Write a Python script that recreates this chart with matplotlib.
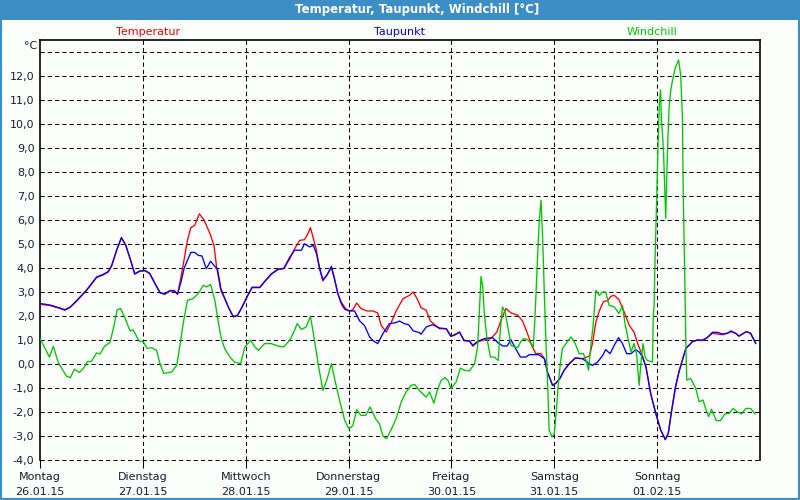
import matplotlib
matplotlib.use("Agg")
import matplotlib.pyplot as plt
from matplotlib.patches import Rectangle
import numpy as np

# ---------------- data (hours since Monday 00:00, °C) ----------------
temp_h = [0, 2.3, 4.7, 5.8, 7, 8.5, 10.9, 13.2, 14.8, 15.9, 16.7, 17.9, 19, 20, 21, 22.1, 23.3, 24.5, 25.6, 26.8,
          28, 29.1, 30.3, 31.3, 32.1, 32.9, 33.6, 34.4, 35.2, 36.1, 37.2, 38.3, 39.6, 40.6, 41.2, 42.2, 43.1, 44.1,
          45.1, 46.1, 47.2, 48.4, 49.5, 51.3, 52.4, 54, 55.5, 56.9, 58.3, 59.4, 60.6, 61.7, 62.5, 63.1, 63.7, 64.5,
          65.2, 66, 66.9, 68, 68.7, 69.5, 70.3, 71.3, 72.2, 73, 73.9, 74.9, 76.3, 77.7, 78.8, 79.6, 80.8, 82, 83.1,
          84.7, 86.2, 87.1, 88.2, 88.9, 90.1, 91.1, 92, 93.2, 94.8, 95.8, 96.7, 97.9, 99, 100.2, 101, 102.1, 103.7,
          105.2, 106.6, 107.7, 108.7, 109.9, 111.5, 112.6, 113.8, 114.7, 115.7, 116.9, 117.7, 118.4, 119.6, 120.4,
          121.3, 122.3, 123.5, 124.9, 126.6, 128.2, 128.9, 129.7, 130.5, 131.5, 132.4, 133.2, 134, 135.1, 136.3,
          137.5, 138.6, 139.6, 140.4, 141.4, 142.5, 143.7, 144.8, 145.9, 146.6, 147.4, 148.3, 149.1, 149.9, 150.7,
          151.5, 152.2, 153.4, 154.6, 155.7, 156.9, 158.1, 159.2, 160.4, 161.2, 162.3, 163.1, 163.9, 164.8, 165.8,
          166.6, 167]
temp_v = [2.49, 2.44, 2.31, 2.24, 2.35, 2.61, 3.07, 3.6, 3.72, 3.83, 4.07, 4.74, 5.25, 4.94, 4.39, 3.74, 3.86, 3.88,
          3.76, 3.35, 2.96, 2.9, 3.04, 3.04, 2.9, 3.63, 4.32, 5.15, 5.68, 5.78, 6.26, 5.99, 5.46, 4.94, 4.04, 3.07,
          2.72, 2.31, 1.99, 2.03, 2.38, 2.82, 3.18, 3.18, 3.42, 3.74, 3.93, 3.97, 4.39, 4.8, 5.15, 5.18, 5.43, 5.68,
          5.29, 4.74, 3.97, 3.46, 3.69, 4.01, 3.56, 2.93, 2.58, 2.31, 2.21, 2.26, 2.54, 2.31, 2.21, 2.21, 2.13, 1.61,
          1.33, 1.75, 2.21, 2.72, 2.86, 3.0, 2.65, 2.35, 2.24, 1.79, 1.65, 1.47, 1.47, 1.17, 1.19, 1.33, 0.96, 0.96,
          0.74, 0.92, 1.01, 1.06, 1.33, 1.89, 2.31, 2.13, 2.03, 1.79, 1.24, 0.78, 0.43, 0.43, 0.22, -0.33, -0.89,
          -0.79, -0.61, -0.26, 0.01, 0.25, 0.22, 0.33, 0.85, 1.75, 2.21, 2.61, 2.63, 2.82, 2.86, 2.68, 2.17, 1.61,
          1.33, 0.78, 0.43, -0.13, -1.24, -2.07, -2.74, -3.15, -2.89, -1.92, -0.94, -0.32, 0.17, 0.65, 0.79, 0.93,
          1.0, 0.97, 1.1, 1.28, 1.25, 1.22, 1.28, 1.35, 1.28, 1.15, 1.25, 1.35, 1.28, 1.0, 0.86]

dew_h = [0, 2.3, 4.7, 5.8, 7, 8.5, 10.9, 13.2, 14.8, 15.9, 16.7, 17.9, 19, 20, 21, 22.1, 23.3, 24.5, 25.6, 26.8,
         28, 29.1, 30.3, 31.3, 32.1, 32.9, 33.6, 34.4, 35.2, 36.1, 36.9, 37.8, 38.8, 39.8, 40.8, 41.4, 42.2, 43.1,
         44.1, 45.1, 46.1, 47.2, 48.4, 49.5, 51.3, 52.4, 54, 55.5, 56.9, 58.3, 59.4, 61, 61.7, 62.9, 63.8, 64.5,
         65.2, 66, 66.9, 68, 68.7, 69.5, 70.3, 71.1, 72.2, 73.4, 74.6, 75.7, 76.9, 77.8, 78.8, 80, 81.5, 82.9,
         83.9, 85, 86, 87.1, 88.5, 88.9, 90.1, 91.6, 93.2, 94.8, 95.9, 97.9, 98.9, 100.2, 101, 102.1, 103.7, 105.6,
         106.8, 108, 109, 109.9, 111.1, 112.1, 113.4, 114.2, 116.3, 117.7, 118.4, 119.6, 120.4, 121.3, 122.3,
         123.5, 124.9, 126.6, 128.2, 128.9, 130.1, 131.3, 132, 133, 134, 135, 135.9, 136.9, 137.9, 139, 139.8,
         140.6, 141.4, 142.5, 143.7, 144.8, 145.9, 146.6, 147.4, 148.3, 149.1, 149.9, 150.7, 151.5, 152.2, 153.4,
         154.6, 155.7, 156.9, 158.1, 159.2, 160.4, 161.2, 162.3, 163.1, 163.9, 164.8, 165.8, 166.6, 167]
dew_v = [2.52, 2.46, 2.33, 2.26, 2.37, 2.63, 3.09, 3.62, 3.74, 3.85, 4.09, 4.76, 5.27, 4.96, 4.41, 3.76, 3.88, 3.9,
         3.78, 3.37, 2.98, 2.92, 3.06, 3.06, 2.92, 3.42, 3.97, 4.32, 4.65, 4.65, 4.53, 4.5, 3.97, 4.28, 4.07, 3.97,
         3.14, 2.74, 2.31, 1.96, 2.03, 2.4, 2.84, 3.2, 3.2, 3.44, 3.76, 3.95, 3.99, 4.46, 4.74, 4.74, 5.01, 4.88,
         4.94, 4.6, 4.04, 3.51, 3.69, 4.07, 3.56, 2.93, 2.51, 2.28, 2.21, 2.21, 1.79, 1.61, 1.13, 0.96, 0.85, 1.26,
         1.68, 1.72, 1.79, 1.68, 1.64, 1.38, 1.31, 1.24, 1.54, 1.64, 1.5, 1.47, 1.15, 1.33, 0.99, 0.96, 0.78, 0.94,
         1.06, 1.1, 0.89, 0.75, 0.75, 1.01, 0.6, 0.29, 0.29, 0.39, 0.39, 0.22, -0.33, -0.89, -0.79, -0.61, -0.26,
         0.01, 0.25, 0.22, 0.01, -0.06, 0.08, 0.36, 0.6, 0.43, 0.78, 1.1, 0.85, 0.43, 0.43, 0.6, 0.5, 0.29, -0.13,
         -1.24, -2.07, -2.74, -3.15, -2.89, -1.92, -0.94, -0.32, 0.17, 0.65, 0.79, 0.93, 1.0, 1.0, 1.1, 1.32, 1.32,
         1.25, 1.28, 1.38, 1.28, 1.17, 1.25, 1.35, 1.28, 1.0, 0.86]

wind_h = [0, 1.2, 2.2, 3.1, 4.3, 6.2, 7.1, 8, 9.2, 10.1, 11.1, 12, 13.2, 14, 15.1, 16.3, 17.2, 18, 18.8, 19.8, 21,
          21.7, 23.1, 24.1, 25, 26, 27.2, 28, 28.9, 30.7, 31.9, 32.6, 33.4, 34.4, 35.7, 36.9, 38.1, 38.8, 39.8, 40.8,
          41.6, 42.3, 43.1, 44.3, 45.4, 46.8, 47.8, 49.2, 50.1, 51, 52.4, 54, 55.5, 56.9, 58.3, 59.4, 60, 61, 62.1,
          63.1, 63.8, 64.9, 66, 66.9, 68, 69, 69.9, 71.1, 72.1, 73, 73.9, 74.9, 76, 77, 78.3, 79.2, 80, 80.9, 82.2,
          83.1, 84.3, 85.4, 86.6, 87.4, 88.5, 90.1, 90.9, 91.9, 92.7, 93.6, 94.5, 95.2, 95.9, 97.1, 98.1, 99, 100.2,
          101.4, 102.1, 102.5, 102.9, 103.3, 103.7, 104.3, 105.1, 106, 106.9, 107.4, 107.9, 108.5, 109.1, 109.9,
          110.7, 111.5, 112.1, 112.9, 113.8, 114.6, 115.1, 115.5, 116, 116.5, 116.9, 117.3, 117.7, 118.1, 118.5,
          118.8, 119.5, 120, 120.5, 121, 121.5, 121.9, 122.7, 123.9, 124.9, 125.8, 126.8, 127.4, 128, 128.5, 129.1,
          129.7, 130.5, 131.3, 132, 132.8, 134, 135.1, 135.9, 136.5, 137.3, 137.9, 138.6, 139.2, 139.8, 140.2,
          140.7, 141.2, 141.7, 142.9, 143.1, 143.3, 143.5, 143.7, 143.9, 144.2, 144.5, 144.8, 145, 145.2, 145.5,
          145.7, 146, 146.2, 146.5, 146.8, 147.2, 147.6, 148.2, 149, 149.5, 149.9, 150.1, 150.4, 150.7, 150.9,
          151.8, 153, 153.8, 154.7, 155.3, 156, 156.7, 157.8, 158.8, 159.8, 160.8, 161.7, 162.7, 163.7, 164.7,
          165.8, 166.8]
wind_v = [1.06, 0.64, 0.29, 0.74, 0.04, -0.51, -0.57, -0.22, -0.35, -0.19, 0.1, 0.11, 0.46, 0.42, 0.75, 0.89, 1.54,
          2.26, 2.31, 1.93, 1.38, 1.43, 0.96, 0.92, 0.65, 0.68, 0.57, 0.01, -0.4, -0.33, -0.06, 0.71, 1.68, 2.65,
          2.72, 2.93, 3.28, 3.21, 3.31, 2.65, 1.75, 1.06, 0.64, 0.29, 0.08, 0.01, 0.71, 0.99, 0.71, 0.57, 0.85, 0.85,
          0.75, 0.71, 1.0, 1.4, 1.68, 1.44, 1.54, 1.99, 1.26, 0.01, -1.1, -0.68, 0.01, -0.82, -1.51, -2.35, -2.71,
          -2.56, -1.9, -2.14, -2.14, -1.79, -2.28, -2.49, -3.0, -3.11, -2.63, -2.28, -1.58, -1.17, -0.89, -0.85,
          -1.1, -1.38, -1.17, -1.63, -1.1, -0.68, -0.57, -0.68, -1.03, -0.75, -0.17, -0.26, -0.29, 0.01, 0.71, 2.1,
          3.65, 3.21, 2.03, 1.06, 0.29, 0.29, 0.15, 1.4, 2.38, 2.17, 1.61, 0.78, 0.71, 0.68, 0.92, 1.06, 1.01, 0.85,
          0.71, 1.96, 4.04, 5.99, 6.82, 5.15, 2.79, 0.71, -1.1, -2.76, -3.04, -2.9, -1.93, -0.68, 0.15, 0.64, 0.85,
          1.13, 0.85, 0.43, 0.43, 0.15, -0.26, 0.71, 1.68, 3.07, 2.86, 3.0, 3.0, 2.44, 2.38, 2.1, 2.44, 1.68, 0.99,
          0.5, 0.85, 0.43, -0.89, 0.01, 0.85, 0.29, 0.15, 0.08, 1.97, 2.46, 4.33, 5.58, 7.04, 9.06, 10.79, 11.42,
          10.17, 9.75, 8.78, 7.67, 6.07, 7.53, 9.33, 10.72, 11.44, 11.83, 12.32, 12.67, 12.04, 10.24, 6.97, 4.06,
          0.86, -0.67, -0.6, -1.01, -1.57, -1.5, -1.85, -2.19, -1.89, -2.36, -2.36, -2.08, -2.06, -1.85, -1.99,
          -2.08, -1.85, -1.85, -2.08]

day_names = ["Montag", "Dienstag", "Mittwoch", "Donnerstag", "Freitag", "Samstag", "Sonntag"]
day_dates = ["26.01.15", "27.01.15", "28.01.15", "29.01.15", "30.01.15", "31.01.15", "01.02.15"]
y_ticks = list(range(-4, 13))
series_names = ["Temperatur", "Taupunkt", "Windchill"]

# ---------------- styling ----------------
W, H = 800, 500
BG = "#fbfefb"
BAR = "#3c8ec4"
RED, BLUE, GREEN = "#ff0000", "#0000ff", "#00c800"
TXT = "#1a1a33"

fig = plt.figure(figsize=(W / 100, H / 100), dpi=100, facecolor=BG)
ax = fig.add_axes([40 / W, 1 - 460 / H, 720 / W, 420 / H])
ax.set_facecolor(BG)

def d(hours):
    return np.array(hours) / 24.0

ax.plot(d(temp_h), temp_v, color=RED, lw=0.95, zorder=3)
ax.plot(d(dew_h), dew_v, color=BLUE, lw=0.95, zorder=4)
ax.plot(d(wind_h), wind_v, color=GREEN, lw=0.95, zorder=5)

ax.set_xlim(0, 7)
ax.set_ylim(-4, 13.5)

# grid
dash = (0, (4, 3))
for yv in range(-4, 14):
    ax.axhline(yv, color="black", lw=0.75, linestyle=dash, zorder=1, clip_on=False)
for xv in range(1, 7):
    ax.axvline(xv, color="black", lw=0.75, linestyle=dash, zorder=1)

for s in ["left", "top", "right"]:
    ax.spines[s].set_color("black")
    ax.spines[s].set_linewidth(1.2)
ax.spines["bottom"].set_visible(False)

ax.set_yticks(y_ticks)
ax.set_yticklabels([f"{v:.1f}".replace(".", ",") for v in y_ticks], fontsize=8, color=TXT)
ax.tick_params(axis="y", length=0, pad=4)

ax.set_xticks(range(7))
ax.set_xticklabels([f"{n}\n{dt}" for n, dt in zip(day_names, day_dates)], fontsize=8, color=TXT,
                   linespacing=1.6)
ax.tick_params(axis="x", length=6, width=0.75, color="black", direction="out", pad=3)

# °C label
fig.text(37 / W, 1 - 46 / H, "°C", ha="right", va="center", fontsize=8, color=TXT)

# series labels
for name, col, xc in zip(series_names, [RED, BLUE, GREEN], [148, 399, 652]):
    fig.text(xc / W, 1 - 32 / H, name, ha="center", va="center", fontsize=8, color=col)

# title bar
fig.patches.append(Rectangle((0, 1 - 20 / H), 1, 20 / H, transform=fig.transFigure,
                             facecolor=BAR, edgecolor="none", zorder=0))
fig.text(417 / W, 1 - 10 / H, "Temperatur, Taupunkt, Windchill [°C]", ha="center", va="center",
         fontsize=8.5, fontweight="bold", color="white")
# outer border
fig.patches.append(Rectangle((0, 0), 1, 1, transform=fig.transFigure, facecolor="none",
                             edgecolor=BAR, lw=3, zorder=10))

fig.savefig("out.png", dpi=100, facecolor=BG)
